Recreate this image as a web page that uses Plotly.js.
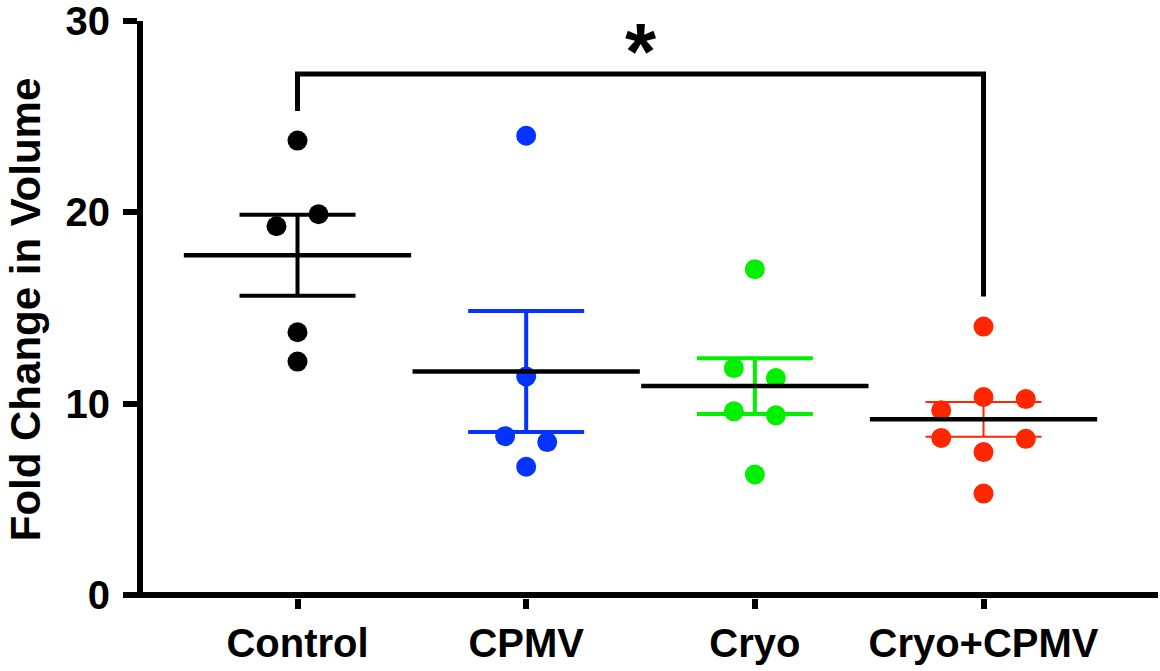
<!DOCTYPE html>
<html>
<head>
<meta charset="utf-8">
<script src="https://cdn.plot.ly/plotly-3.0.1.min.js"></script>
<style>
  html, body { margin: 0; padding: 0; background: #fff; }
  #chart { width: 1160px; height: 671px; }
</style>
</head>
<body>
<div id="chart"></div>
<script>
// ---- data ----
const categories = ["Control", "CPMV", "Cryo", "Cryo+CPMV"];
const controlValues  = [23.75, 19.27, 19.9, 13.73, 12.2];
const cpmvValues     = [24.0, 11.42, 8.3, 7.99, 6.7];
const cryoValues     = [17.03, 11.86, 11.34, 9.6, 9.39, 6.3];
const cryoCpmvValues = [14.03, 10.35, 10.24, 9.65, 8.21, 8.16, 7.47, 5.3];
// horizontal scatter offsets of the dots (category units)
const controlJitter  = [0, -0.092, 0.092, 0, 0];
const cpmvJitter     = [0, 0, -0.092, 0.092, 0];
const cryoJitter     = [0, -0.092, 0.092, -0.092, 0.092, 0];
const cryoCpmvJitter = [0, 0, 0.185, -0.185, -0.185, 0.185, 0, 0];
const groupMeans = [17.76, 11.68, 10.92, 9.18];
const groupSEM   = [2.12, 3.16, 1.46, 0.91];
const yTickVals  = [0, 10, 20, 30];
const yTickText  = ["0", "10", "20", "30"];
// significance bracket (category index, y value)
const bracketX = [0, 0, 3, 3];
const bracketY = [25.3, 27.23, 27.23, 15.6];
const sigLabel = "*";

// ---- styles ----
const colors = ["#000000", "#0433FF", "#00F000", "#FF2600"];
const errWidths = [4, 4, 4, 2];
const groups = [
  [controlValues, controlJitter],
  [cpmvValues, cpmvJitter],
  [cryoValues, cryoJitter],
  [cryoCpmvValues, cryoCpmvJitter]
];

const traces = [];
// error bars (drawn first, under dots)
groups.forEach((g, i) => {
  traces.push({
    type: "scatter", mode: "markers",
    x: [i], y: [groupMeans[i]],
    marker: { size: 1, color: "rgba(0,0,0,0)" },
    error_y: { type: "data", array: [groupSEM[i]], visible: true,
               color: colors[i], thickness: errWidths[i], width: 58 },
    hoverinfo: "skip", showlegend: false
  });
});
// dots
groups.forEach((g, i) => {
  const vals = g[0], jit = g[1];
  traces.push({
    type: "scatter", mode: "markers",
    x: vals.map((v, k) => i + jit[k]), y: vals,
    marker: { size: 20, color: colors[i] },
    showlegend: false, name: categories[i]
  });
});
// mean lines
groupMeans.forEach((m, i) => {
  traces.push({
    type: "scatter", mode: "lines",
    x: [i - 0.497, i + 0.497], y: [m, m],
    line: { color: "#000", width: 4.5 },
    hoverinfo: "skip", showlegend: false
  });
});
// bracket
traces.push({
  type: "scatter", mode: "lines",
  x: bracketX, y: bracketY,
  line: { color: "#000", width: 5 },
  hoverinfo: "skip", showlegend: false, cliponaxis: false
});

const font = { family: "Liberation Sans, Arial, sans-serif", color: "#000", weight: "bold" };

const layout = {
  width: 1160, height: 671,
  margin: { l: 143, r: 2, t: 21, b: 73, pad: 0 },
  paper_bgcolor: "#fff", plot_bgcolor: "#fff",
  showlegend: false,
  xaxis: {
    range: [-0.6757, 3.763],
    tickvals: [0, 1, 2, 3], ticktext: categories,
    showgrid: false, zeroline: false, showline: false,
    ticks: "outside", ticklen: 10, tickwidth: 6, tickcolor: "#000",
    tickfont: Object.assign({ size: 40 }, font),
    ticklabelstandoff: 0,
    ticklabeloverflow: "allow"
  },
  yaxis: {
    range: [-0.157, 30],
    tickvals: yTickVals, ticktext: yTickText,
    showgrid: false,
    zeroline: true, zerolinecolor: "#000", zerolinewidth: 6,
    showline: true, linecolor: "#000", linewidth: 6,
    ticks: "outside", ticklen: 14, tickwidth: 6, tickcolor: "#000",
    tickfont: Object.assign({ size: 40 }, font),
    ticklabelstandoff: 5,
    ticklabeloverflow: "allow",
    title: { text: "Fold Change in Volume", font: Object.assign({ size: 42 }, font), standoff: 14 }
  },
  annotations: [{
    x: 1.5, y: 28.4, xref: "x", yref: "y",
    text: sigLabel, showarrow: false,
    font: Object.assign({ size: 80 }, font),
    xanchor: "center", yanchor: "middle"
  }]
};

Plotly.newPlot("chart", traces, layout, { staticPlot: true, displayModeBar: false });
</script>
</body>
</html>
